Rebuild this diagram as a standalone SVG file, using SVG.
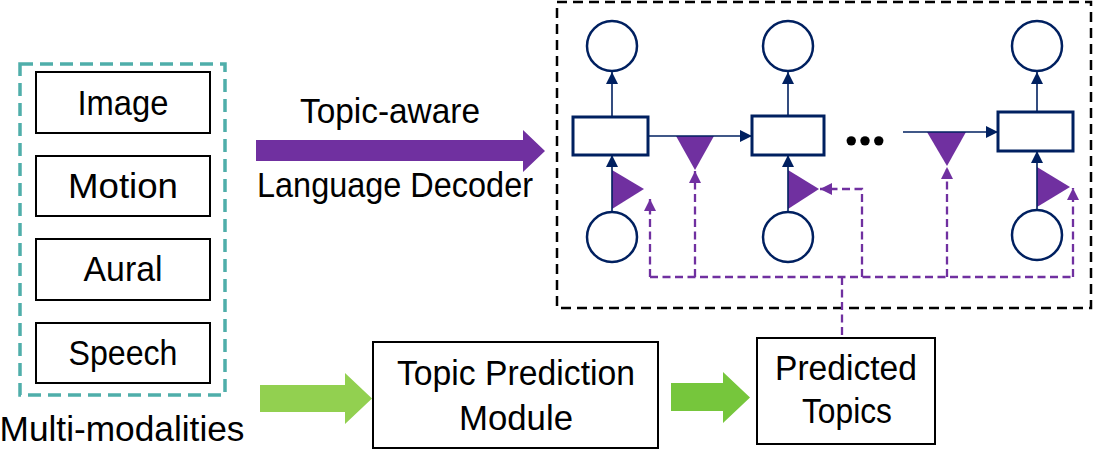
<svg xmlns="http://www.w3.org/2000/svg" width="1096" height="460" viewBox="0 0 1096 460">
<style>
text{font-family:"Liberation Sans",Arial,sans-serif;font-size:35px;fill:#000;text-anchor:middle}
.box{fill:#fff;stroke:#000;stroke-width:2}
.nv{fill:#fff;stroke:#002060;stroke-width:2.5}
.nl{stroke:#002060;stroke-width:1.6;fill:none}
.pt{fill:#7030A0;stroke:none}
.pd{stroke:#7030A0;stroke-width:2.3;stroke-dasharray:8 4.5;fill:none}
</style>
<defs>
<marker id="an" viewBox="0 0 12 12" refX="12" refY="6" markerWidth="12" markerHeight="12" markerUnits="userSpaceOnUse" orient="auto"><path d="M0,0 L12,6 L0,12 z" fill="#002060"/></marker>
<marker id="ap" viewBox="0 0 12 12" refX="12" refY="6" markerWidth="12" markerHeight="12" markerUnits="userSpaceOnUse" orient="auto"><path d="M0,0 L12,6 L0,12 z" fill="#7030A0"/></marker>
</defs>
<rect width="1096" height="460" fill="#fff"/>

<g id="modalities">
<rect x="20" y="64" width="205" height="331" fill="none" stroke="#4FAEAA" stroke-width="3.5" stroke-dasharray="13 7"/>
<text x="122" y="441" textLength="245" lengthAdjust="spacingAndGlyphs">Multi-modalities</text>
</g>
<g id="image"><rect class="box" x="36" y="72" width="174" height="61"/><text x="123" y="115" textLength="91" lengthAdjust="spacingAndGlyphs">Image</text></g>
<g id="motion"><rect class="box" x="36" y="156" width="174" height="60"/><text x="123" y="198" textLength="110" lengthAdjust="spacingAndGlyphs">Motion</text></g>
<g id="aural"><rect class="box" x="36" y="239" width="174" height="61"/><text x="123" y="281" textLength="79" lengthAdjust="spacingAndGlyphs">Aural</text></g>
<g id="speech"><rect class="box" x="36" y="323" width="174" height="60"/><text x="123" y="365" textLength="109" lengthAdjust="spacingAndGlyphs">Speech</text></g>

<g id="topic-prediction"><rect class="box" x="373" y="342" width="285" height="106"/>
<text x="516" y="385" textLength="238" lengthAdjust="spacingAndGlyphs">Topic Prediction</text>
<text x="516" y="430" textLength="114" lengthAdjust="spacingAndGlyphs">Module</text></g>
<g id="predicted-topics"><rect class="box" x="757" y="338" width="178" height="106"/>
<text x="846" y="380" textLength="142" lengthAdjust="spacingAndGlyphs">Predicted</text>
<text x="847" y="423" textLength="90" lengthAdjust="spacingAndGlyphs">Topics</text></g>

<g id="decoder-label">
<text x="390" y="123" textLength="180" lengthAdjust="spacingAndGlyphs">Topic-aware</text>
<text x="395" y="197" textLength="276" lengthAdjust="spacingAndGlyphs">Language Decoder</text>
</g>

<g id="decoder">
<rect x="557" y="2" width="534" height="306" fill="none" stroke="#000" stroke-width="2.5" stroke-dasharray="10 6"/>
<g id="out1"><circle class="nv" cx="612" cy="46" r="25"/></g>
<g id="out2"><circle class="nv" cx="788" cy="46" r="25"/></g>
<g id="out3"><circle class="nv" cx="1037" cy="46" r="25"/></g>
<g id="cell1"><rect x="573" y="117" width="75" height="38" fill="#fff" stroke="#002060" stroke-width="3"/></g>
<g id="cell2"><rect x="752" y="116" width="72" height="39" fill="#fff" stroke="#002060" stroke-width="3"/></g>
<g id="cell3"><rect x="998" y="112" width="75" height="39" fill="#fff" stroke="#002060" stroke-width="3"/></g>
<g id="in1"><circle class="nv" cx="612" cy="237" r="25"/></g>
<g id="in2"><circle class="nv" cx="788" cy="237" r="25"/></g>
<g id="in3"><circle class="nv" cx="1037" cy="235" r="25"/></g>
<text x="865" y="145" style="font-family:'Liberation Serif',serif;font-size:58px;font-weight:bold" textLength="42" lengthAdjust="spacing">...</text>
<g id="gates">
<polygon class="pt" points="612,170 612,209 644,189"/>
<polygon class="pt" points="788,170 788,209 819,189"/>
<polygon class="pt" points="1037,167 1037,207 1070,187"/>
<polygon class="pt" points="676,136 714,136 695,170"/>
<polygon class="pt" points="927,132 966,132 947,166"/>
</g>
</g>

<g id="connectors">
<polygon points="256,140 523,140 523,130 545,151 523,172 523,161 256,161" fill="#7030A0"/>
<polygon points="260,385 345,385 345,373 372,398.5 345,424 345,412 260,412" fill="#92D050"/>
<polygon points="671,383 723,383 723,372 750,397.5 723,423 723,411 671,411" fill="#76C63C"/>
<line class="nl" x1="612" y1="117" x2="612" y2="72" marker-end="url(#an)"/>
<line class="nl" x1="788" y1="116" x2="788" y2="72" marker-end="url(#an)"/>
<line class="nl" x1="1037" y1="112" x2="1037" y2="72" marker-end="url(#an)"/>
<line class="nl" x1="612" y1="212" x2="612" y2="155" marker-end="url(#an)"/>
<line class="nl" x1="788" y1="212" x2="788" y2="155" marker-end="url(#an)"/>
<line class="nl" x1="1037" y1="210" x2="1037" y2="151" marker-end="url(#an)"/>
<line class="nl" x1="648" y1="136" x2="752" y2="136" marker-end="url(#an)"/>
<line class="nl" x1="903" y1="132" x2="998" y2="132" marker-end="url(#an)"/>
<path class="pd" d="M650,277 H1073"/>
<path class="pd" d="M842,277 V338"/>
<path class="pd" d="M650,277 V199" marker-end="url(#ap)"/>
<path class="pd" d="M695,277 V171" marker-end="url(#ap)"/>
<path class="pd" d="M862,277 V189 H820" marker-end="url(#ap)"/>
<path class="pd" d="M947,277 V167" marker-end="url(#ap)"/>
<path class="pd" d="M1073,277 V188" marker-end="url(#ap)"/>
</g>
</svg>
